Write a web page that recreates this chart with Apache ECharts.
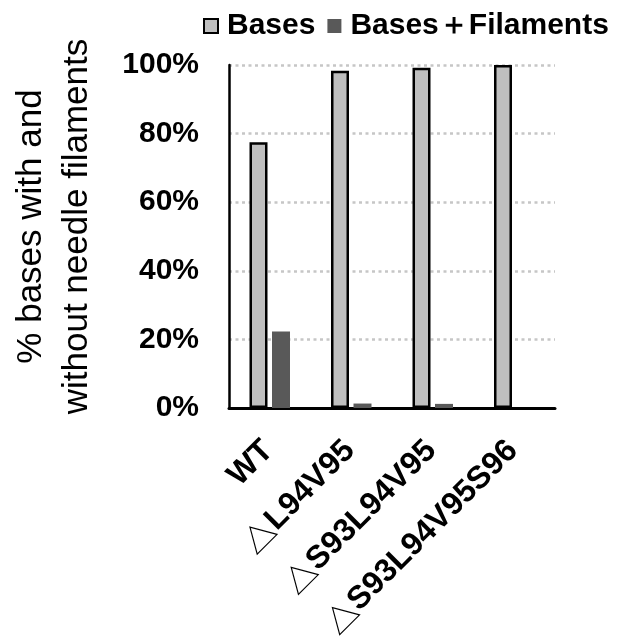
<!DOCTYPE html>
<html>
<head>
<meta charset="utf-8">
<script src="https://cdn.jsdelivr.net/npm/echarts@6/dist/echarts.min.js"></script>
<style>
html,body{margin:0;padding:0;background:#fff;}
#chart{width:631px;height:637px;}
</style>
</head>
<body>
<div id="chart"></div>
<script>
const categories = ['WT', '△L94V95', '△S93L94V95', '△S93L94V95S96'];
const basesValues = [77.5, 98.3, 99.2, 100];
const filamentValues = [22.3, 1.3, 1.2, 0];
const seriesNames = ['Bases', 'Bases＋Filaments'];
const yAxisTitle = '% bases with and\nwithout needle filaments';

const FONT = '"Liberation Sans", Arial, sans-serif';
const chart = echarts.init(document.getElementById('chart'), null, {renderer: 'canvas'});
chart.setOption({
  backgroundColor: '#fff',
  animation: false,
  legend: {
    left: 198, top: 6,
    itemWidth: 14, itemHeight: 14, itemGap: 12,
    icon: 'rect',
    textStyle: {fontFamily: FONT, fontWeight: 'bold', fontSize: 30, color: '#000', padding: [0,0,0,4]},
    data: seriesNames
  },
  grid: {left: 229, right: 76, top: 65, bottom: 229, containLabel: false, outerBoundsMode: 'none'},
  xAxis: {
    type: 'category',
    data: categories,
    axisLine: {show: true, lineStyle: {color: '#000', width: 3}},
    axisTick: {show: false},
    axisLabel: {
      rotate: 45, margin: 32, interval: 0,
      padding: [6, 5, 0, 0],
      color: '#000',
      fontFamily: FONT, fontWeight: 'bold', fontSize: 32,
      formatter: function (v) {
        if (v.charAt(0) === '△') return '{t|△}{b|' + v.slice(1) + '}';
        return '{b|' + v + '}';
      },
      rich: {
        t: {fontFamily: '"Noto Sans CJK JP"', fontWeight: 'normal', fontSize: 32, color: '#000'},
        b: {fontFamily: FONT, fontWeight: 'bold', fontSize: 32, color: '#000'}
      }
    }
  },
  yAxis: {
    type: 'value', min: 0, max: 100, interval: 20,
    name: yAxisTitle,
    nameLocation: 'middle', nameGap: 129,
    nameTextStyle: {fontFamily: FONT, fontSize: 35, color: '#000', lineHeight: 46, padding: [0,0,0,20]},
    axisLine: {show: true, lineStyle: {color: '#000', width: 2.5}},
    axisTick: {show: false},
    axisLabel: {formatter: '{value}%', margin: 30, color: '#000', fontFamily: FONT, fontWeight: 'bold', fontSize: 30},
    splitLine: {show: true, lineStyle: {color: '#c6c6c6', width: 2.5, type: [3, 3.5]}}
  },
  series: [
    {
      name: seriesNames[0], type: 'bar', data: basesValues,
      barWidth: 18, barGap: '25%',
      itemStyle: {color: '#bfbfbf', borderColor: '#000', borderWidth: 2.5}
    },
    {
      name: seriesNames[1], type: 'bar', data: filamentValues,
      barWidth: 18,
      itemStyle: {color: '#595959'}
    }
  ]
});
</script>
</body>
</html>
